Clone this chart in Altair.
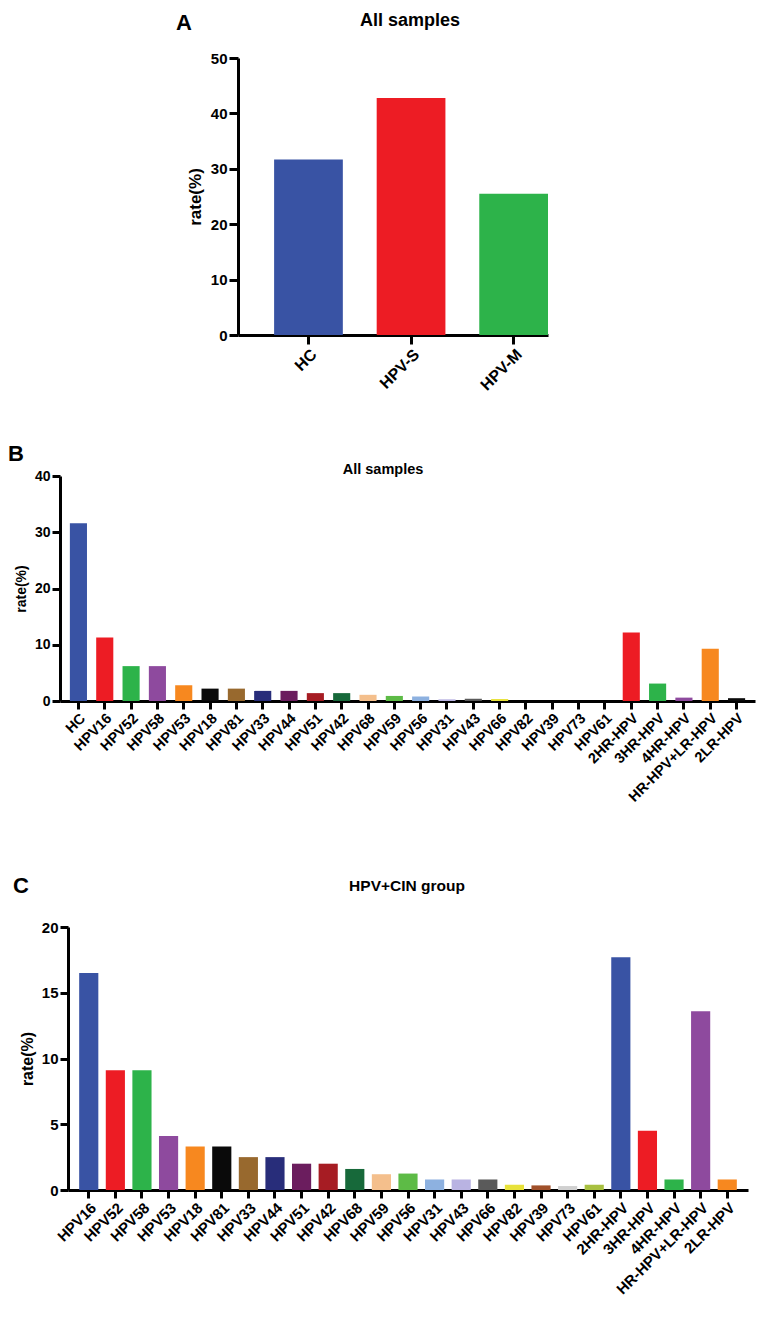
import altair as alt
import pandas as pd

FONT = "Liberation Sans"

# ---------------- data ----------------
a_cats = ["HC", "HPV-S", "HPV-M"]
a_vals = [31.7, 42.8, 25.5]

b_cats = ["HC", "HPV16", "HPV52", "HPV58", "HPV53", "HPV18", "HPV81", "HPV33",
          "HPV44", "HPV51", "HPV42", "HPV68", "HPV59", "HPV56", "HPV31", "HPV43",
          "HPV66", "HPV82", "HPV39", "HPV73", "HPV61", "2HR-HPV", "3HR-HPV",
          "4HR-HPV", "HR-HPV+LR-HPV", "2LR-HPV"]
b_vals = [31.6, 11.3, 6.2, 6.2, 2.8, 2.2, 2.2, 1.8, 1.8, 1.4, 1.4, 1.1, 0.9,
          0.8, 0.3, 0.4, 0.35, 0.0, 0.0, 0.0, 0.0, 12.2, 3.1, 0.6, 9.3, 0.5]

c_cats = ["HPV16", "HPV52", "HPV58", "HPV53", "HPV18", "HPV81", "HPV33",
          "HPV44", "HPV51", "HPV42", "HPV68", "HPV59", "HPV56", "HPV31", "HPV43",
          "HPV66", "HPV82", "HPV39", "HPV73", "HPV61", "2HR-HPV", "3HR-HPV",
          "4HR-HPV", "HR-HPV+LR-HPV", "2LR-HPV"]
c_vals = [16.5, 9.1, 9.1, 4.1, 3.3, 3.3, 2.5, 2.5, 2.0, 2.0, 1.6, 1.2, 1.25,
          0.8, 0.8, 0.8, 0.4, 0.35, 0.3, 0.4, 17.7, 4.5, 0.8, 13.6, 0.8]

palette = ["#3953a4", "#ed1c24", "#2db34a", "#8e4a9e", "#f7881f", "#0a0a0a",
           "#98692e", "#282d7a", "#6b1d5e", "#a61c23", "#17693a", "#f4bf8c",
           "#5dbb46", "#8db1e0", "#b9b3e2", "#5a5a5a", "#e8e23a", "#a0502a",
           "#d0d0d0", "#a8c040"]


def text_layer(txt, x, y, size, align="left", baseline="middle", opacity=1.0,
               bold=True):
    return alt.Chart(pd.DataFrame({"t": [txt]})).mark_text(
        font=FONT, fontWeight="bold" if bold else "normal", fontSize=size,
        align=align, baseline=baseline, color="black", opacity=opacity
    ).encode(text="t:N", x=alt.value(x), y=alt.value(y))


def panel(cats, vals, letter, title, w, h, ymax, ystep, *, pi, po, align,
          lab_fs, tick_fs, ytitle_fs, title_fs, title_x, title_y,
          letter_x, letter_y, box, dom_w, tick_len):
    colors = [palette[i % len(palette)] for i in range(len(cats))]
    df = pd.DataFrame({"cat": cats, "val": vals})
    bars = alt.Chart(df).mark_bar().encode(
        x=alt.X("cat:N", sort=cats,
                scale=alt.Scale(paddingInner=pi, paddingOuter=po, align=align),
                axis=alt.Axis(title=None, labelAngle=-45, labelFont=FONT,
                              labelFontWeight="bold", labelFontSize=lab_fs,
                              labelColor="black", domainColor="black",
                              domainWidth=dom_w, tickColor="black",
                              tickWidth=dom_w, tickSize=tick_len,
                              labelPadding=2)),
        y=alt.Y("val:Q", scale=alt.Scale(domain=[0, ymax], nice=False),
                axis=alt.Axis(title="rate(%)", values=list(range(0, ymax + 1, ystep)),
                              grid=False, labelFont=FONT, labelFontWeight="bold",
                              labelFontSize=tick_fs, labelColor="black",
                              domainColor="black", domainWidth=dom_w,
                              tickColor="black", tickWidth=dom_w,
                              tickSize=tick_len, labelPadding=2,
                              titleFont=FONT, titleFontWeight="bold",
                              titleFontSize=ytitle_fs, titleColor="black",
                              titlePadding=6)),
        color=alt.Color("cat:N", scale=alt.Scale(domain=cats, range=colors),
                        legend=None),
    )
    lab = text_layer(letter, letter_x, letter_y, 22)
    ttl = text_layer(title, title_x, title_y, title_fs, align="center")
    # invisible corner markers that fix this panel's layout box
    x0, y0, x1, y1 = box
    tl = text_layer("X", x0, y0, 8, align="left", baseline="top", opacity=0)
    br = text_layer("X", x1, y1, 8, align="right", baseline="bottom", opacity=0)
    return alt.layer(bars, lab, ttl, tl, br).properties(width=w, height=h)


# Horizontal centering in the grid shifts each panel by (maxRight - right)/2:
# A shifted by 178 px, C by 8 px relative to B.
A = panel(a_cats, a_vals, "A", "All samples", 310, 277, 50, 10,
          pi=0.33, po=0.176, align=1.0, lab_fs=16, tick_fs=15, ytitle_fs=17,
          title_fs=18, title_x=172, title_y=-37,
          letter_x=-62, letter_y=-35, box=(-62, -50, 340, 385),
          dom_w=3, tick_len=9)

B = panel(b_cats, b_vals, "B", "All samples", 695, 225, 40, 10,
          pi=0.35, po=0.375, align=0.5, lab_fs=14.5, tick_fs=14, ytitle_fs=14,
          title_fs=14.5, title_x=323, title_y=-6,
          letter_x=-52, letter_y=-22, box=(-52, -33, 696, 387),
          dom_w=3, tick_len=8)

C = panel(c_cats, c_vals, "C", "HPV+CIN group", 680, 263, 20, 5,
          pi=0.28, po=0.42, align=0.5, lab_fs=15, tick_fs=15, ytitle_fs=16,
          title_fs=15.5, title_x=339, title_y=-41,
          letter_x=-55, letter_y=-41, box=(-55, -64, 680, 388),
          dom_w=3, tick_len=8)

chart = alt.concat(A, B, C, columns=1, spacing=0, center=True,
                   bounds="full").resolve_scale(
    color="independent"
).properties(
    padding=0
).configure_view(stroke=None)

chart.save("out.html", embed_options={"renderer": "svg", "actions": False})
